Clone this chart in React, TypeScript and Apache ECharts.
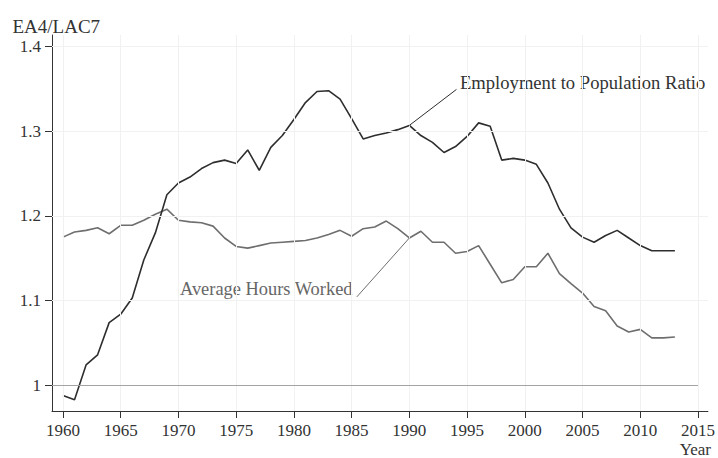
import React, { useEffect, useRef } from "react";
import * as echarts from "echarts";

const years = [
  1960, 1961, 1962, 1963, 1964, 1965, 1966, 1967, 1968, 1969,
  1970, 1971, 1972, 1973, 1974, 1975, 1976, 1977, 1978, 1979,
  1980, 1981, 1982, 1983, 1984, 1985, 1986, 1987, 1988, 1989,
  1990, 1991, 1992, 1993, 1994, 1995, 1996, 1997, 1998, 1999,
  2000, 2001, 2002, 2003, 2004, 2005, 2006, 2007, 2008, 2009,
  2010, 2011, 2012, 2013,
];

const employmentRatio = [
  0.988, 0.983, 1.024, 1.036, 1.074, 1.084, 1.103, 1.148, 1.18, 1.225,
  1.239, 1.246, 1.256, 1.263, 1.266, 1.262, 1.278, 1.254, 1.281, 1.295,
  1.314, 1.334, 1.347, 1.348, 1.338, 1.315, 1.291, 1.295, 1.298, 1.302,
  1.307, 1.295, 1.287, 1.275, 1.282, 1.294, 1.31, 1.306, 1.266, 1.268,
  1.266, 1.261, 1.239, 1.208, 1.186, 1.175, 1.169, 1.177, 1.183, 1.174,
  1.165, 1.159, 1.159, 1.159,
];

const hoursWorked = [
  1.175, 1.181, 1.183, 1.186, 1.179, 1.189, 1.189, 1.195, 1.202, 1.208,
  1.195, 1.193, 1.192, 1.188, 1.174, 1.164, 1.162, 1.165, 1.168, 1.169,
  1.17, 1.171, 1.174, 1.178, 1.183, 1.176, 1.185, 1.187, 1.194, 1.185,
  1.174, 1.182, 1.169, 1.169, 1.156, 1.158, 1.165, 1.143, 1.121, 1.125,
  1.14, 1.14, 1.156, 1.132, 1.12, 1.109, 1.093, 1.088, 1.07, 1.063,
  1.066, 1.056, 1.056, 1.057,
];

const xTickValues = [1960, 1965, 1970, 1975, 1980, 1985, 1990, 1995, 2000, 2005, 2010, 2015];
const yTickValues = [1, 1.1, 1.2, 1.3, 1.4];

const yTitle = "EA4/LAC7";
const xTitle = "Year";
const employmentLabel = "Employment to Population Ratio";
const hoursLabel = "Average Hours Worked";

const X_MIN = 1959.05;
const X_MAX = 2015.86;
const Y_MIN = 0.9696;
const Y_MAX = 1.4138;

const FONT = "'Liberation Serif', 'Times New Roman', serif";
const DARK = "#2e2e2e";
const GRAY = "#6e6e6e";

export default function App() {
  const ref = useRef<HTMLDivElement>(null);

  useEffect(() => {
    if (!ref.current) return;
    const chart = echarts.init(ref.current, undefined, { renderer: "svg" });

    const empData = years.map((y, i) => [y, employmentRatio[i]]);
    const hoursData = years.map((y, i) => [y, hoursWorked[i]]);
    const anchorIdx = years.indexOf(1990);

    const gridLines: any[] = [
      ...xTickValues.map((v) => ({ xAxis: v })),
      ...yTickValues.filter((v) => v !== 1).map((v) => ({ yAxis: v })),
    ];

    chart.setOption({
      animation: false,
      backgroundColor: "#ffffff",
      grid: { left: 52, right: 7, top: 35, bottom: 47 },
      xAxis: {
        type: "value",
        min: X_MIN,
        max: X_MAX,
        axisLine: { show: true, lineStyle: { color: "#333", width: 1 } },
        axisTick: {
          show: true,
          length: 7,
          customValues: xTickValues,
          lineStyle: { color: "#333", width: 1 },
        },
        axisLabel: {
          customValues: xTickValues,
          margin: 11,
          fontFamily: FONT,
          fontSize: 17,
          color: "#333",
          formatter: (v: number) => String(v),
        },
        splitLine: { show: false },
      },
      yAxis: {
        type: "value",
        min: Y_MIN,
        max: Y_MAX,
        axisLine: { show: true, lineStyle: { color: "#333", width: 1 } },
        axisTick: {
          show: true,
          length: 7,
          customValues: yTickValues,
          lineStyle: { color: "#333", width: 1 },
        },
        axisLabel: {
          customValues: yTickValues,
          margin: 11,
          fontFamily: FONT,
          fontSize: 17,
          color: "#333",
        },
        splitLine: { show: false },
      },
      series: [
        {
          type: "line",
          data: [],
          z: 0,
          silent: true,
          markLine: {
            silent: true,
            symbol: ["none", "none"],
            label: { show: false },
            lineStyle: { color: "#f1f1f1", width: 1, type: "solid" },
            data: gridLines,
          },
        },
        {
          type: "line",
          data: [],
          z: 1,
          silent: true,
          markLine: {
            silent: true,
            symbol: ["none", "none"],
            label: { show: false },
            lineStyle: { color: "#a3a3a3", width: 1, type: "solid" },
            data: [[{ coord: [X_MIN, 1] }, { coord: [2015, 1] }]],
          },
        },
        {
          name: hoursLabel,
          type: "line",
          data: hoursData,
          showSymbol: false,
          z: 3,
          lineStyle: { color: GRAY, width: 1.6 },
          markLine: {
            silent: true,
            symbol: ["none", "none"],
            label: { show: false },
            lineStyle: { color: GRAY, width: 1, type: "solid" },
            data: [
              [
                { coord: [years[anchorIdx], hoursWorked[anchorIdx]] },
                { coord: [1985.45, 1.1044] },
              ],
            ],
          },
        },
        {
          name: employmentLabel,
          type: "line",
          data: empData,
          showSymbol: false,
          z: 4,
          lineStyle: { color: DARK, width: 1.6 },
          markLine: {
            silent: true,
            symbol: ["none", "none"],
            label: { show: false },
            lineStyle: { color: DARK, width: 1, type: "solid" },
            data: [
              [
                { coord: [years[anchorIdx], employmentRatio[anchorIdx]] },
                { coord: [1994.08, 1.3495] },
              ],
            ],
          },
        },
      ],
      graphic: [
        {
          type: "text",
          x: 12.5,
          y: 26,
          style: {
            text: yTitle,
            font: `19px ${FONT}`,
            fill: "#333",
            textAlign: "left",
            textVerticalAlign: "middle",
          },
        },
        {
          type: "text",
          x: 711,
          y: 449.5,
          style: {
            text: xTitle,
            font: `17px ${FONT}`,
            fill: "#333",
            textAlign: "right",
            textVerticalAlign: "middle",
          },
        },
        {
          type: "text",
          x: 460,
          y: 82.5,
          style: {
            text: employmentLabel,
            font: `18.6px ${FONT}`,
            fill: "#333",
            textAlign: "left",
            textVerticalAlign: "middle",
          },
        },
        {
          type: "text",
          x: 180,
          y: 289,
          style: {
            text: hoursLabel,
            font: `18.4px ${FONT}`,
            fill: "#666",
            textAlign: "left",
            textVerticalAlign: "middle",
          },
        },
      ],
    });

    return () => chart.dispose();
  }, []);

  return (
    <div
      ref={ref}
      style={{ position: "absolute", left: 0, top: 0, width: 718, height: 458 }}
    />
  );
}
